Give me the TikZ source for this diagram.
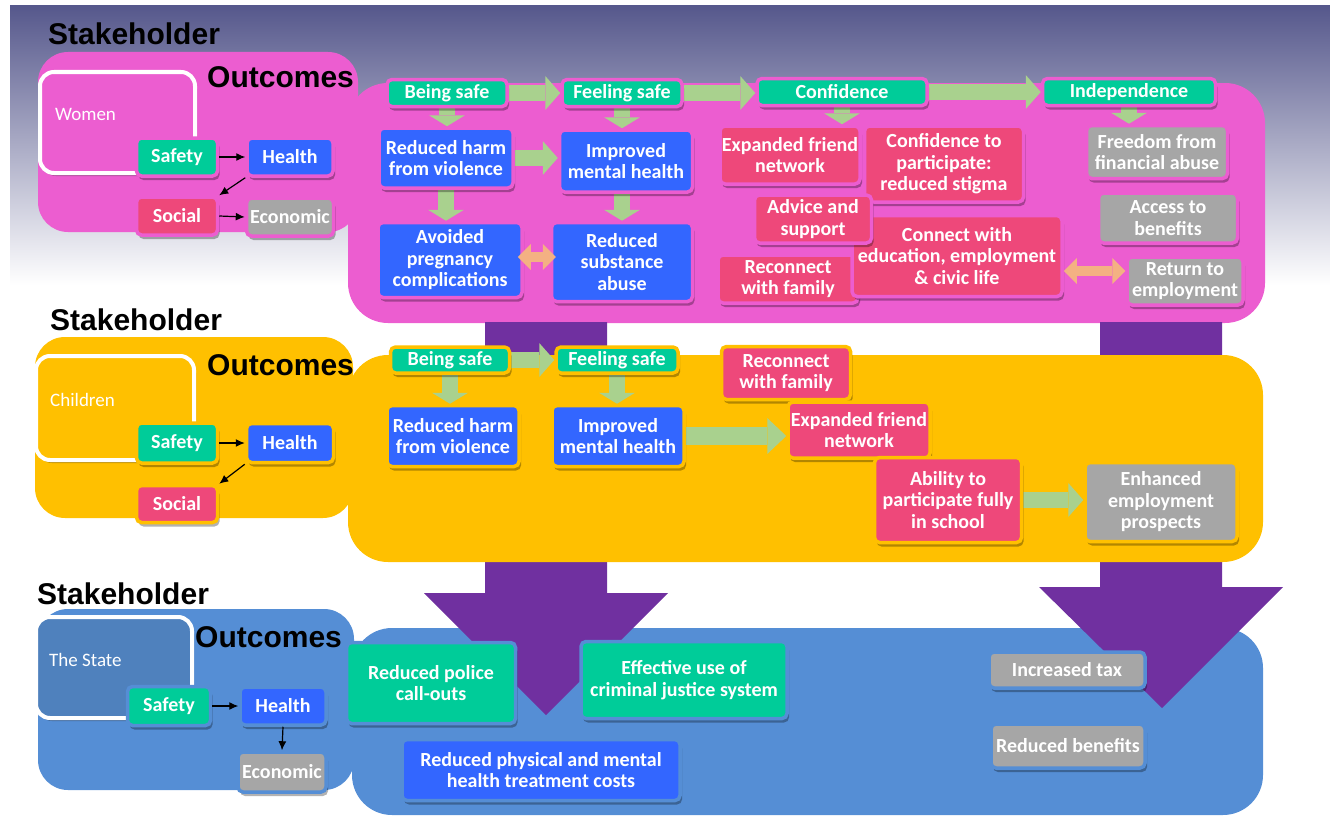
\documentclass[tikz,border=0pt]{standalone}
\usepackage{fontspec}
\setmainfont{Carlito}
\newfontfamily\arialfont{Liberation Sans}
\usetikzlibrary{arrows.meta,shadows,calc}
\definecolor{cpink}{RGB}{236,93,208}
\definecolor{cyellow}{RGB}{255,192,0}
\definecolor{cbluebg}{RGB}{85,142,213}
\definecolor{cstate}{RGB}{79,129,189}
\definecolor{cgreen}{RGB}{0,204,153}
\definecolor{cblue}{RGB}{51,102,255}
\definecolor{cred}{RGB}{238,72,122}
\definecolor{cgray}{RGB}{166,166,166}
\definecolor{carrow}{RGB}{169,209,142}
\definecolor{corange}{RGB}{244,177,131}
\definecolor{cpurple}{RGB}{112,48,160}
\definecolor{ctop}{RGB}{86,88,140}
\pgfdeclarelayer{bg}
\pgfdeclarelayer{mid}
\pgfsetlayers{bg,mid,main}
\begin{document}
\begin{tikzpicture}[x=1pt,y=-1pt,
  box/.style={rounded corners=5pt, text=white, font=\bfseries\fontsize{20}{21.5}\selectfont,
    align=center, inner sep=0pt, line width=3.5pt,
    drop shadow={shadow xshift=2pt,shadow yshift=-4pt,opacity=0.3,fill=black}},
  sz/.style 2 args={minimum width=#1pt, minimum height=#2pt},
  wbox/.style={box, draw=cpink},
  cbox/.style={box, draw=cyellow},
  sbox/.style={box, draw=cbluebg},
  fgreen/.style={fill=cgreen},
  fblue/.style={fill=cblue},
  fred/.style={fill=cred},
  fgray/.style={fill=cgray},
  stk/.style={anchor=base west, inner sep=0pt, font=\arialfont\bfseries\fontsize{30}{31}\selectfont},
  who/.style={anchor=base west, inner sep=0pt, text=white, font=\fontsize{19}{21}\selectfont},
  whobox/.style={draw=white, line width=4pt, rounded corners=14pt, inner sep=0pt,
    drop shadow={shadow xshift=2pt,shadow yshift=-3pt,opacity=0.25,fill=black}},
  ga/.style={draw=carrow, line width=16pt, -{Triangle[width=34pt,length=15pt,line width=0pt]}},
  gd/.style={draw=carrow, line width=16pt, -{Triangle[width=36pt,length=11pt,line width=0pt]}},
  gb/.style={draw=carrow, line width=18pt, -{Triangle[width=36pt,length=19pt,line width=0pt]}},
  oa/.style={draw=corange, line width=10pt, {Triangle[width=26pt,length=13pt,line width=0pt]}-{Triangle[width=26pt,length=13pt,line width=0pt]}},
  ka/.style={draw=black, line width=1.2pt, -{Latex[length=9pt,width=8pt]}}
]
\useasboundingbox (0,0) rectangle (1330,816);

% ---------------- Women ----------------
\node[stk] (stw) at (48,45) {Stakeholder};
\node[stk] (otw) at (207,88) {Outcomes};
\node[wbox,fgreen,sz={81}{38}] (w_saf) at (177,157) {Safety};
\node[wbox,fblue,sz={86}{38}] (w_hea) at (290,157) {Health};
\node[wbox,fred,sz={81}{38}] (w_soc) at (177,216) {Social};
\node[wbox,fgray,sz={87}{38}] (w_eco) at (290,217) {Economic};
\node[wbox,fgreen,sz={120}{27}] (w_bs) at (447,93) {Being safe};
\node[wbox,fgreen,sz={120}{27}] (w_fs) at (622,93) {Feeling safe};
\node[wbox,fgreen,sz={170}{27}] (w_conf) at (842,92) {Confidence};
\node[wbox,fgreen,sz={173}{27}] (w_ind) at (1129,92) {Independence};
\node[wbox,fblue,sz={134}{60}] (w_rhv) at (446,158) {Reduced harm\\from violence};
\node[wbox,fblue,sz={133}{62}] (w_imh) at (626,161) {Improved\\mental health};
\node[wbox,fblue,sz={144}{75}] (w_apc) at (450,260) {Avoided\\pregnancy\\complications};
\node[wbox,fblue,sz={141}{79}] (w_rsa) at (622,262) {Reduced\\substance\\abuse};
\node[wbox,fred,sz={140}{58}] (w_efn) at (790,155) {Expanded friend\\network};
\node[wbox,fred,sz={159}{76}] (w_ctp) at (944,164) {Confidence to\\participate:\\reduced stigma};
\node[wbox,fred,sz={140}{48}] (w_rwf) at (788,279) {Reconnect\\with family};
\node[wbox,fred,sz={210}{81}] (w_cwe) at (957,256) {Connect with\\education, employment\\\& civic life};
\node[wbox,fred,sz={117}{48}] (w_aas) at (813,219) {Advice and\\support};
\node[wbox,fgray,sz={141}{53}] (w_ffa) at (1157,152) {Freedom from\\financial abuse};
\node[wbox,fgray,sz={139}{50}] (w_atb) at (1168,218) {Access to\\benefits};
\node[wbox,fgray,sz={116}{48}] (w_rte) at (1185,281) {Return to\\employment};

% ---------------- Children ----------------
\node[stk] (stc) at (50,330) {Stakeholder};
\node[stk] (otc) at (207,375) {Outcomes};
\node[cbox,fgreen,sz={81}{40}] (c_saf) at (177,443) {Safety};
\node[cbox,fblue,sz={87}{39}] (c_hea) at (290,443) {Health};
\node[cbox,fred,sz={81}{37}] (c_soc) at (177,504) {Social};
\node[cbox,fgreen,sz={119}{26}] (c_bs) at (450,360) {Being safe};
\node[cbox,fgreen,sz={122}{26}] (c_fs) at (617,360) {Feeling safe};
\node[cbox,fblue,sz={132}{61}] (c_rhv) at (453,436) {Reduced harm\\from violence};
\node[cbox,fblue,sz={132}{61}] (c_imh) at (618,436) {Improved\\mental health};
\node[cbox,fred,sz={129}{53}] (c_rwf) at (786,373) {Reconnect\\with family};
\node[cbox,fred,sz={142}{56}] (c_efn) at (859,430) {Expanded friend\\network};
\node[cbox,fred,sz={147}{85}] (c_apf) at (948,500) {Ability to\\participate fully\\in school};
\node[cbox,fgray,sz={152}{79}] (c_eep) at (1161,502) {Enhanced\\employment\\prospects};

% ---------------- State ----------------
\node[stk] (sts) at (37,604) {Stakeholder};
\node[stk] (ots) at (195,647) {Outcomes};
\node[sbox,fgreen,sz={83}{39}] (s_saf) at (169,706) {Safety};
\node[sbox,fblue,sz={86}{38}] (s_hea) at (283,706) {Health};
\node[sbox,fgray,sz={88}{40}] (s_eco) at (282,772) {Economic};
\node[sbox,fgreen,sz={169}{81}] (s_rpc) at (431,683) {Reduced police\\call-outs};
\node[sbox,fgreen,sz={206}{77}] (s_ecj) at (684,680) {Effective use of\\criminal justice system};
\node[sbox,fblue,sz={278}{61}] (s_rpm) at (541,770) {Reduced physical and mental\\health treatment costs};
\node[sbox,fgray,sz={156}{36}] (s_itx) at (1067,670) {Increased tax};
\node[sbox,fgray,sz={154}{44}] (s_rbn) at (1068,746) {Reduced benefits};

% black arrows
\draw[ka] (w_saf.east) -- (w_hea.west);
\draw[ka] (w_hea.south west) -- (w_soc.north east);
\draw[ka] (w_soc.east) -- (w_eco.west);
\draw[ka] (c_saf.east) -- (c_hea.west);
\draw[ka] (c_hea.south west) -- (c_soc.north east);
\draw[ka] (s_saf.east) -- (s_hea.west);
\draw[ka] (s_hea.south) -- (s_eco.north);

% orange double arrows (on top of the boxes)
\coordinate (oy) at (0,271);
\draw[oa, shorten <=-6pt, shorten >=-6pt] (w_apc.east |- 0,257) -- (w_rsa.west |- 0,257);
\draw[oa] (w_cwe.east |- oy) -- (w_rte.west |- oy);

% ---------------- arrows layer ----------------
\begin{pgfonlayer}{mid}
\draw[ga] (w_bs.east) -- (w_fs.west |- w_bs.east);
\draw[ga] (w_fs.east) -- (w_conf.west |- w_fs.east);
\draw[ga] (w_conf.east) -- (w_ind.west |- w_conf.east);
\draw[gd] (w_bs.south) -- (w_bs.south |- w_rhv.north);
\draw[gd] (w_fs.south) -- (w_fs.south |- w_imh.north);
\draw[gd] (w_conf.south) -- (w_conf.south |- w_efn.north);
\draw[gd] (w_ind.south) -- (w_ind.south |- w_ffa.north);
\draw[ga] (w_rhv.east) -- (w_imh.west |- w_rhv.east);
\draw[gd] (w_rhv.south) -- (w_rhv.south |- w_apc.north);
\draw[gd] (w_imh.south -| w_rsa.north) -- (w_rsa.north);
\draw[ga] (c_bs.east) -- (c_fs.west |- c_bs.east);
\draw[gd] (c_bs.south) -- (c_bs.south |- c_rhv.north);
\draw[gd] (c_fs.south) -- (c_fs.south |- c_imh.north);
\draw[gb] (c_imh.east) -- (c_efn.west |- c_imh.east);
\draw[ga] (c_apf.east) -- (c_eep.west |- c_apf.east);
\end{pgfonlayer}

% ---------------- background layer ----------------
\begin{pgfonlayer}{bg}
\shade[top color=ctop, bottom color=white] (10,6) rectangle (1330,285);
\fill[cpink, rounded corners=30pt] (38,52) rectangle (358,232);
\fill[cpink, rounded corners=40pt] (348,83) rectangle (1265,323);
\fill[cbluebg, rounded corners=30pt] (38,609) rectangle (354,790);
\fill[cbluebg, rounded corners=40pt] (352,628) rectangle (1263,815);
\fill[cpurple] (485,322) -- (607,322) -- (607,593) -- (668,593) -- (546,715) -- (424,593) -- (485,593) -- cycle;
\fill[cpurple] (1100,322) -- (1222,322) -- (1222,587) -- (1283,587) -- (1162,708) -- (1039,587) -- (1100,587) -- cycle;
\fill[cyellow, rounded corners=30pt] (35,337) rectangle (353,518);
\fill[cyellow, rounded corners=40pt] (348,355) rectangle (1263,562);
\node[whobox, fill=cpink, sz={155}{101}] (wbx) at (117.5,122.5) {};
\node[whobox, fill=cyellow, sz={158}{104}] (cbx) at (115,408) {};
\node[whobox, fill=cstate, sz={156}{101}] (sbx) at (114,667.5) {};
\node[who] (wlab) at (55,120) {Women};
\node[who] (clab) at (50,406) {Children};
\node[who] (slab) at (49,666) {The State};
\end{pgfonlayer}
\end{tikzpicture}
\end{document}
